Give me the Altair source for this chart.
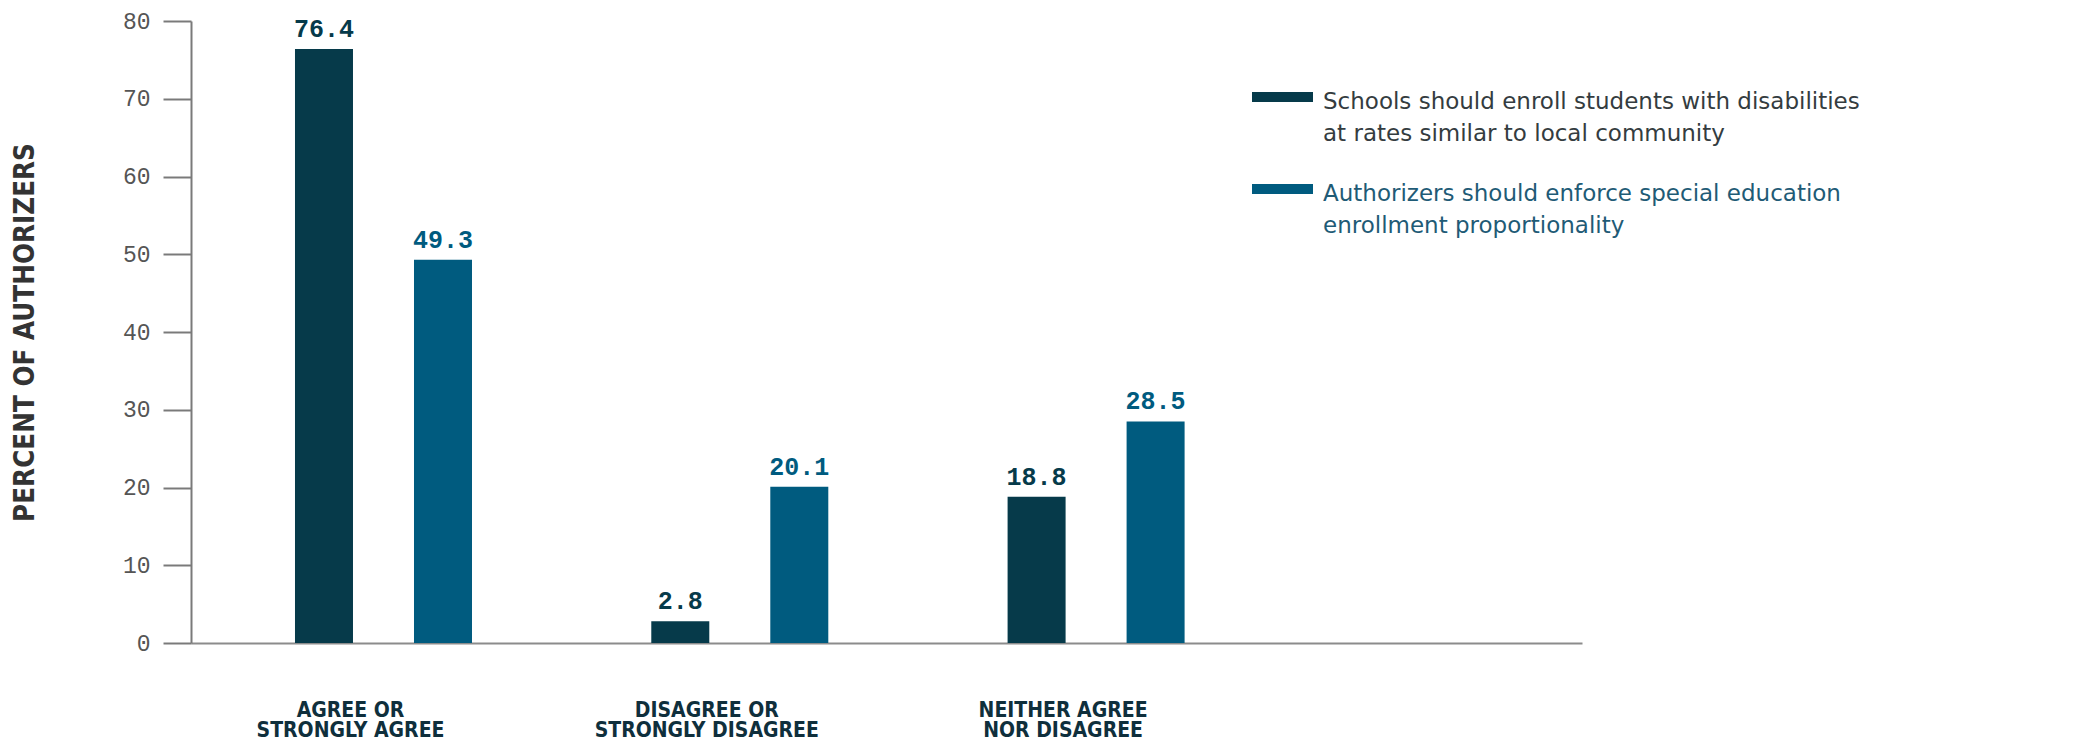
import altair as alt
import pandas as pd

# ---- data ----
categories = [
    "AGREE OR\nSTRONGLY AGREE",
    "DISAGREE OR\nSTRONGLY DISAGREE",
    "NEITHER AGREE\nNOR DISAGREE",
]
series = [
    "Schools should enroll students with disabilities\nat rates similar to local community",
    "Authorizers should enforce special education\nenrollment proportionality",
]
values_schools = [76.4, 2.8, 18.8]
values_authorizers = [49.3, 20.1, 28.5]
y_ticks = [0, 10, 20, 30, 40, 50, 60, 70, 80]
colors = ["#063a4a", "#005b7f"]

rows = []
for s, vals in zip(series, [values_schools, values_authorizers]):
    for c, v in zip(categories, vals):
        rows.append({"category": c, "series": s, "value": v})
df = pd.DataFrame(rows)

narrow = "Liberation Sans Narrow, DejaVu Sans Condensed, Liberation Sans"

x_enc = alt.X(
    "category:N",
    sort=categories,
    scale=alt.Scale(paddingInner=0.5032, paddingOuter=0.7036, align=0.2074),
    axis=alt.Axis(
        title=None,
        labelAngle=0,
        labelExpr="split(datum.label, '\\n')",
        ticks=False,
        domainColor="#8c8c8c",
        domainWidth=2,
        labelFont=narrow,
        labelFontWeight="bold",
        labelFontSize=21,
        labelColor="#0f2f3c",
        labelLineHeight=20,
        labelBaseline="top",
        labelPadding=56,
        labelOffset=-33,
        labelLimit=400,
    ),
)
y_enc = alt.Y(
    "value:Q",
    scale=alt.Scale(domain=[0, 80], nice=False),
    axis=alt.Axis(
        values=y_ticks,
        title="PERCENT OF AUTHORIZERS",
        grid=False,
        tickSize=28,
        tickColor="#7a7a7a",
        tickWidth=2,
        domainColor="#7a7a7a",
        domainWidth=2,
        labelFont="Liberation Mono",
        labelFontSize=23,
        labelColor="#555555",
        labelPadding=13,
        titleFont=narrow,
        titleFontSize=27.5,
        titleFontWeight="bold",
        titleColor="#333333",
        titlePadding=83,
    ),
)
xoff_enc = alt.XOffset(
    "series:N", sort=series, scale=alt.Scale(paddingInner=0.5126, paddingOuter=0)
)
color_enc = alt.Color(
    "series:N",
    sort=series,
    scale=alt.Scale(domain=series, range=colors),
    legend=alt.Legend(
        title=None,
        orient="none",
        legendX=1061,
        legendY=39,
        labelExpr="split(datum.label, '\\n')",
        labelFont="DejaVu Sans",
        labelFontSize=23,
        labelColor=alt.ExprRef(expr="datum.index == 0 ? '#343c40' : '#1f5b76'"),
        labelBaseline="top",
        labelLimit=1000,
        labelOffset=10,
        symbolType="M-1,0.052L1,0.052L1,0.38L-1,0.38Z",
        symbolSize=3721,
        symbolStrokeWidth=0,
        symbolOpacity=1,
        rowPadding=6,
        padding=0,
    ),
)

base = alt.Chart(df).encode(x=x_enc, y=y_enc, xOffset=xoff_enc, color=color_enc)

bars = base.mark_bar()
labels = base.mark_text(
    dy=-12,
    baseline="alphabetic",
    font="Liberation Mono",
    fontWeight="bold",
    fontSize=25,
).encode(text=alt.Text("value:Q", format=".1f"))

chart = (
    alt.layer(bars, labels)
    .properties(
        width=1391,
        height=622,
        autosize=alt.AutoSizeParams(type="none"),
        padding={"left": 183, "top": 13, "right": 490, "bottom": 100},
        background="white",
    )
    .configure(style={"guide-label": {"lineHeight": 32}})
    .configure_view(stroke=None)
)

chart.save("out.html", embed_options={"renderer": "svg", "actions": False})
